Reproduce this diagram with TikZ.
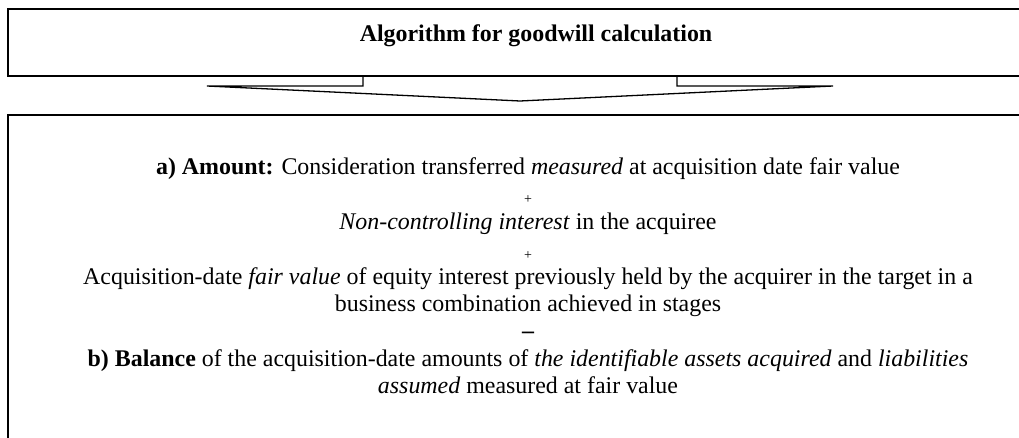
\documentclass[tikz,border=0pt]{standalone}
\usepackage{fontspec}
\setmainfont{Liberation Serif}

\begin{document}
\begin{tikzpicture}[x=1pt,y=-1pt,
        box/.style={line width=1.8pt},
        arr/.style={line width=1.3pt, line join=miter},
        txt/.style={anchor=base, inner sep=0pt,
                        font=\fontsize{23.9}{28}\selectfont},
        sgn/.style={inner sep=0pt, font=\fontsize{14}{14}\selectfont}]
    \useasboundingbox (0,0) rectangle (1019,438);
    \clip (0,0) rectangle (1019,438);

    % header box and the down arrow under it
    \draw[box] (1030,9) -- (8,9) -- (8,76) -- (1030,76);
    \coordinate (tip) at (520,101);
    \draw[arr]
        \foreach \s in {-1,1} {
            (520+\s*157,76) -- (520+\s*157,86) -- (520+\s*313,86) -- (tip)
        };
    \node[txt, font=\fontsize{23.9}{28}\selectfont\bfseries] (title) at (536,42)
        {Algorithm for goodwill calculation};

    % body box
    \draw[box] (1030,115) -- (8,115) -- (8,450);

    \node[txt] (amount) at (528,175)
        {\textbf{a) Amount:} Consideration transferred \textit{measured} at acquisition date fair value};
    \node[sgn] (plusa) at (528,200) {+};
    \node[txt] (nci) at (528,230)
        {\textit{Non-controlling interest} in the acquiree};
    \node[sgn] (plusb) at (528,256) {+};
    \node[txt] (fva) at (528,284)
        {Acquisition-date \textit{fair value} of equity interest previously held by the acquirer in the target in a};
    \node[txt] (fvb) at (528,311)
        {business combination achieved in stages};
    \node[txt, font=\fontsize{23.9}{28}\selectfont\bfseries] (minus) at (528,338) {--};
    \node[txt] (bala) at (528,366)
        {\textbf{b) Balance} of the acquisition-date amounts of \textit{the identifiable assets acquired} and \textit{liabilities}};
    \node[txt] (balb) at (528,393)
        {\textit{assumed} measured at fair value};
\end{tikzpicture}
\end{document}
